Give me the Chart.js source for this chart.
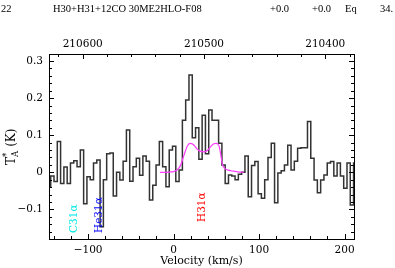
<!DOCTYPE html>
<html>
<head>
<meta charset="utf-8">
<script src="https://cdn.jsdelivr.net/npm/chart.js@4.4.0/dist/chart.umd.min.js"></script>
<style>
  html, body { margin: 0; padding: 0; background: #fff; }
  #wrap { width: 395px; height: 268px; }
</style>
</head>
<body>
<div id="wrap"><canvas id="spec" width="395" height="268"></canvas></div>
<script>
// channel centres (km/s) and antenna temperature (K)
const velocity = [
  -145.6, -141.8, -137.9, -134.1, -130.2, -126.4, -122.5, -118.7, -114.8, -111.0,
  -107.1, -103.3, -99.4, -95.6, -91.7, -87.9, -84.0, -80.2, -76.3, -72.5,
  -68.6, -64.8, -60.9, -57.1, -53.2, -49.4, -45.5, -41.7, -37.8, -34.0,
  -30.1, -26.3, -22.4, -18.6, -14.7, -10.9, -7.0, -3.2, 0.7, 4.5,
  8.4, 12.2, 16.1, 19.9, 23.8, 27.6, 31.5, 35.3, 39.2, 43.0,
  46.9, 50.7, 54.6, 58.4, 62.3, 66.1, 70.0, 73.8, 77.7, 81.5,
  85.4, 89.2, 93.1, 96.9, 100.8, 104.6, 108.5, 112.3, 116.2, 120.0,
  123.9, 127.7, 131.6, 135.4, 139.3, 143.1, 147.0, 150.8, 154.7, 158.5,
  162.4, 166.2, 170.1, 173.9, 177.8, 181.6, 185.5, 189.3, 193.2, 197.0,
  200.9, 204.7, 208.6, 212.4
];
const tmb = [
  -0.039, -0.010, -0.025, 0.083, -0.030, 0.014, -0.030, 0.025, 0.031, 0.015,
  0.060, -0.085, -0.012, -0.020, 0.025, 0.033, -0.147, -0.020, 0.050, 0.052,
  -0.064, 0.000, -0.021, 0.030, 0.114, -0.024, 0.015, 0.038, -0.008, 0.044,
  0.030, -0.075, -0.035, 0.020, 0.083, 0.015, -0.039, 0.060, 0.070, -0.025,
  0.006, 0.140, 0.195, 0.262, 0.093, 0.120, 0.035, 0.154, 0.050, 0.168,
  0.140, 0.140, 0.078, 0.020, -0.030, -0.007, -0.010, -0.020, -0.005, 0.000,
  0.044, -0.066, 0.018, 0.029, -0.058, -0.070, -0.020, 0.040, 0.078, -0.082,
  -0.002, 0.004, 0.020, 0.073, 0.006, 0.030, 0.065, 0.066, 0.066, 0.137,
  0.038, -0.021, -0.055, -0.021, -0.007, 0.025, 0.029, -0.010, 0.025, -0.010,
  -0.043, 0.025, -0.088, 0.025
];

// model fit (magenta)
const fitVelocity = [-16, -10, -4, 0, 4, 8, 12, 16, 19, 23, 27, 31, 35, 39, 43, 47, 50, 53, 55, 57, 60, 65, 70, 75, 82];
const fitTmb = [0, 0, 0.001, 0.002, 0.006, 0.018, 0.045, 0.070, 0.078, 0.075, 0.064, 0.057, 0.055, 0.058, 0.068, 0.077, 0.078, 0.072, 0.050, 0.022, 0.010, 0.005, 0.003, 0.001, 0];

const velTicks = [-100, 0, 100, 200];
const tempTicks = [-0.1, 0, 0.1, 0.2, 0.3];
const freqTicks = [210400, 210500, 210600];

const lineNames = ["C31α", "He31α", "H31α"];
const lineVel = [-116, -87, 34];

const headerParts = ["22", "H30+H31+12CO 30ME2HLO-F08", "+0.0", "+0.0", "Eq", "34."];

const serif = "'DejaVu Serif'";
Chart.defaults.font.family = serif;
Chart.defaults.color = "#000";

function minusFmt(v) {
  return v < 0 ? "\u2212" + Math.abs(v) : String(v);
}

const decor = {
  id: "decor",
  afterDraw(chart) {
    const ctx = chart.ctx;
    const a = chart.chartArea;
    const xs = chart.scales.x, ys = chart.scales.y, fs = chart.scales.x2;
    ctx.save();

    // frame
    ctx.strokeStyle = "#000";
    ctx.lineWidth = 1;
    ctx.strokeRect(Math.round(a.left) + 0.5, Math.round(a.top) + 0.5,
      Math.round(a.right - a.left), Math.round(a.bottom - a.top));

    // inward ticks
    ctx.beginPath();
    for (let v = -140; v <= 200; v += 20) {
      const px = Math.round(xs.getPixelForValue(v)) + 0.5;
      const len = v % 100 === 0 ? 5 : 3;
      ctx.moveTo(px, a.bottom); ctx.lineTo(px, a.bottom - len);
    }
    for (let f = 210380; f <= 210620; f += 20) {
      const px = Math.round(fs.getPixelForValue(f)) + 0.5;
      const len = f % 100 === 0 ? 5 : 3;
      ctx.moveTo(px, a.top); ctx.lineTo(px, a.top + len);
    }
    for (let i = -8; i <= 15; i++) {
      const py = Math.round(ys.getPixelForValue(i / 50)) + 0.5;
      const len = i % 5 === 0 ? 5 : 3;
      ctx.moveTo(a.left, py); ctx.lineTo(a.left + len, py);
      ctx.moveTo(a.right, py); ctx.lineTo(a.right - len, py);
    }
    ctx.stroke();

    // header line
    ctx.fillStyle = "#000";
    ctx.font = "10.5px 'Liberation Serif'";
    ctx.textBaseline = "alphabetic";
    ctx.textAlign = "left";
    const hx = [1, 53, 270, 312, 345, 380];
    headerParts.forEach((t, i) => ctx.fillText(t, hx[i], 12));

    // y title: T*A (K)
    ctx.save();
    ctx.translate(15, 165);
    ctx.rotate(-Math.PI / 2);
    ctx.textBaseline = "alphabetic";
    ctx.font = "12px " + serif;
    let x0 = 0;
    ctx.fillText("T", x0, 0);
    x0 += ctx.measureText("T").width;
    ctx.font = "8.5px " + serif;
    ctx.fillText("*", x0, -6);
    ctx.fillText("A", x0, 3);
    x0 += ctx.measureText("A").width + 4;
    ctx.font = "12px " + serif;
    ctx.fillText("(K)", x0, 0);
    ctx.restore();

    // line identifications
    const labelColor = ["#00e8e8", "#0000ff", "#ff0000"];
    const labelBase = [233, 233, 222];
    ctx.font = "10.5px " + serif;
    lineNames.forEach((name, i) => {
      const px = xs.getPixelForValue(lineVel[i]);
      ctx.save();
      ctx.translate(px, labelBase[i]);
      ctx.rotate(-Math.PI / 2);
      ctx.textAlign = "left";
      ctx.textBaseline = "middle";
      ctx.fillStyle = labelColor[i];
      ctx.fillText(name, 0, 0);
      ctx.restore();
    });

    ctx.restore();
  }
};

new Chart(document.getElementById("spec"), {
  type: "line",
  data: {
    datasets: [
      {
        label: "fit",
        data: fitVelocity.map((v, i) => ({ x: v, y: fitTmb[i] })),
        borderColor: "#ff3cff",
        borderWidth: 1.2,
        pointRadius: 0,
        cubicInterpolationMode: "monotone"
      },
      {
        label: "spectrum",
        data: velocity.map((v, i) => ({ x: v, y: tmb[i] })),
        borderColor: "#333333",
        borderWidth: 1.5,
        pointRadius: 0,
        stepped: "middle"
      }
    ]
  },
  options: {
    responsive: false,
    animation: false,
    devicePixelRatio: 1,
    layout: { padding: { left: 0, right: 41, top: 0, bottom: 0 } },
    plugins: { legend: { display: false }, tooltip: { enabled: false } },
    scales: {
      x: {
        type: "linear",
        position: "bottom",
        min: -145.7,
        max: 211,
        afterFit: s => { s.height = 29; },
        afterBuildTicks: s => { s.ticks = velTicks.map(v => ({ value: v })); },
        grid: { display: false, drawTicks: false },
        border: { display: false },
        ticks: { padding: 5, maxRotation: 0, font: { size: 10.5 }, callback: v => minusFmt(v) },
        title: { display: true, text: "Velocity (km/s)", font: { size: 11 }, padding: { top: 0, bottom: 0 } }
      },
      x2: {
        type: "linear",
        axis: "x",
        position: "top",
        reverse: true,
        min: 210376.3,
        max: 210627.8,
        afterFit: s => { s.height = 54; },
        afterBuildTicks: s => { s.ticks = freqTicks.map(v => ({ value: v })); },
        grid: { display: false, drawTicks: false },
        border: { display: false },
        ticks: { padding: 3, maxRotation: 0, font: { size: 10.5 }, callback: v => String(v) }
      },
      y: {
        type: "linear",
        position: "left",
        min: -0.1798,
        max: 0.3189,
        afterFit: s => { s.width = 49; },
        afterBuildTicks: s => { s.ticks = tempTicks.map(v => ({ value: v })); },
        grid: { display: false, drawTicks: false },
        border: { display: false },
        ticks: { padding: 6, font: { size: 10.5 }, callback: v => minusFmt(v) }
      }
    }
  },
  plugins: [decor]
});
</script>
</body>
</html>
